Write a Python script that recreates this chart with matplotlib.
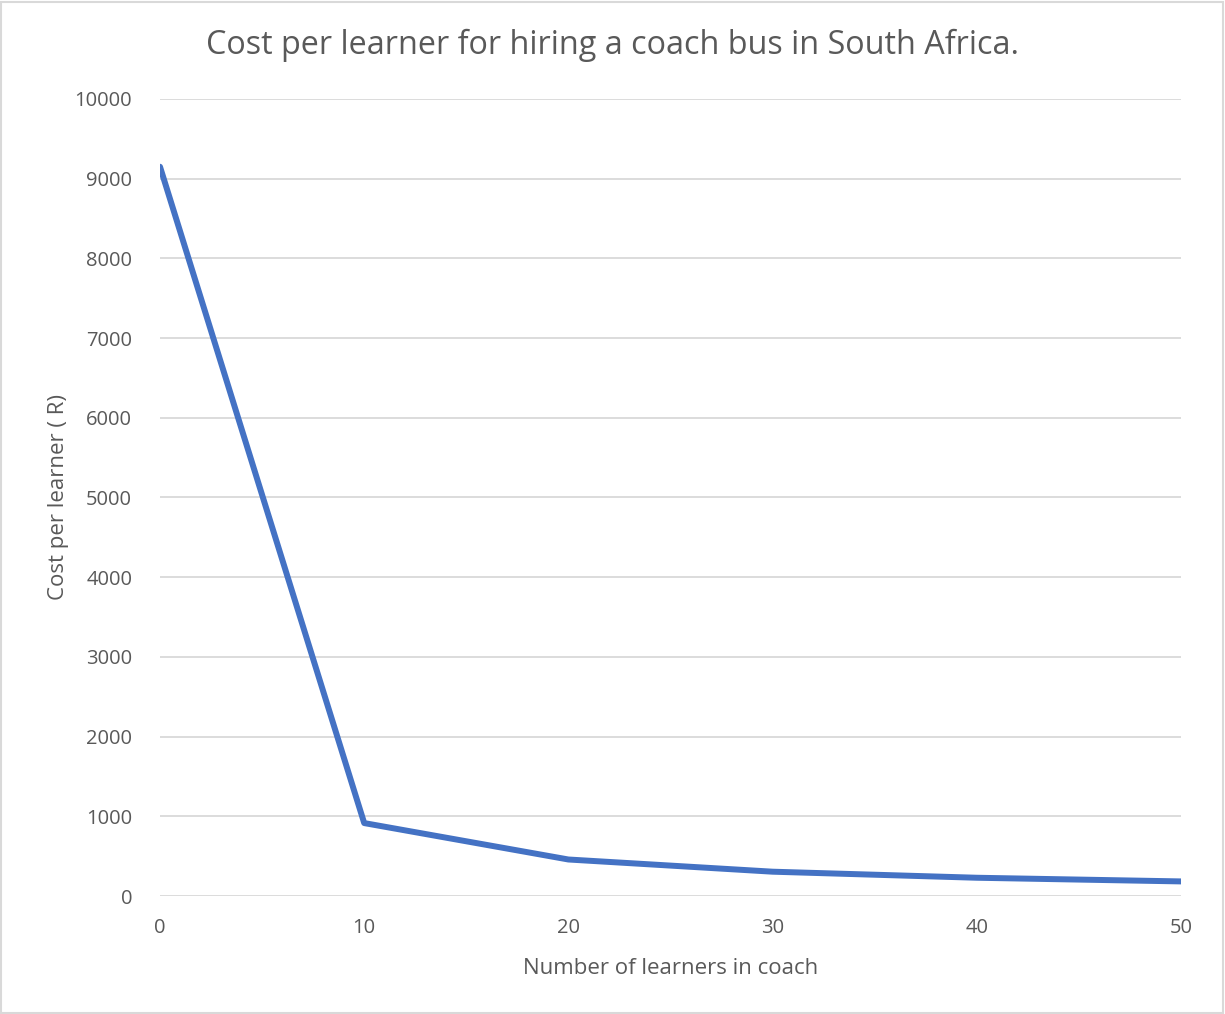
import matplotlib.pyplot as plt
from matplotlib.patches import Rectangle

learners = [0, 10, 20, 30, 40, 50]
cost = [9150, 915, 458, 305, 229, 183]
y_ticks = [0, 1000, 2000, 3000, 4000, 5000, 6000, 7000, 8000, 9000, 10000]
x_ticks = [0, 10, 20, 30, 40, 50]

plt.rcParams['font.family'] = ['Open Sans', 'DejaVu Sans']
grey = '#595959'

fig = plt.figure(figsize=(12.25, 10.14), dpi=100)
ax = fig.add_axes([160/1225, 1 - 896/1014, (1181-160)/1225, (896-99)/1014])

ax.plot(learners, cost, color='#4472C4', linewidth=4.3, solid_capstyle='round', zorder=3)

ax.set_xlim(0, 50)
ax.set_ylim(0, 10000)
ax.set_xticks(x_ticks)
ax.set_yticks(y_ticks)
ax.yaxis.grid(True, color='#D9D9D9', linewidth=1.3)
ax.set_axisbelow(True)
for s in ax.spines.values():
    s.set_visible(False)
ax.tick_params(length=0, labelsize=14.5, labelcolor=grey)
ax.tick_params(axis='x', pad=16)
ax.tick_params(axis='y', pad=20)

ax.set_xlabel('Number of learners in coach', fontsize=16, color=grey, labelpad=14)
ax.set_ylabel('Cost per learner ( R)', fontsize=16, color=grey, labelpad=4)
fig.text(0.5, 1 - 45/1014, 'Cost per learner for hiring a coach bus in South Africa.',
         ha='center', va='center', fontsize=23.3, color=grey)

# light frame around the whole chart
fig.patches.append(Rectangle((0.001, 0.001), 0.997, 0.997, transform=fig.transFigure,
                             fill=False, edgecolor='#D9D9D9', linewidth=1.5))

fig.savefig('out.png', dpi=100)
